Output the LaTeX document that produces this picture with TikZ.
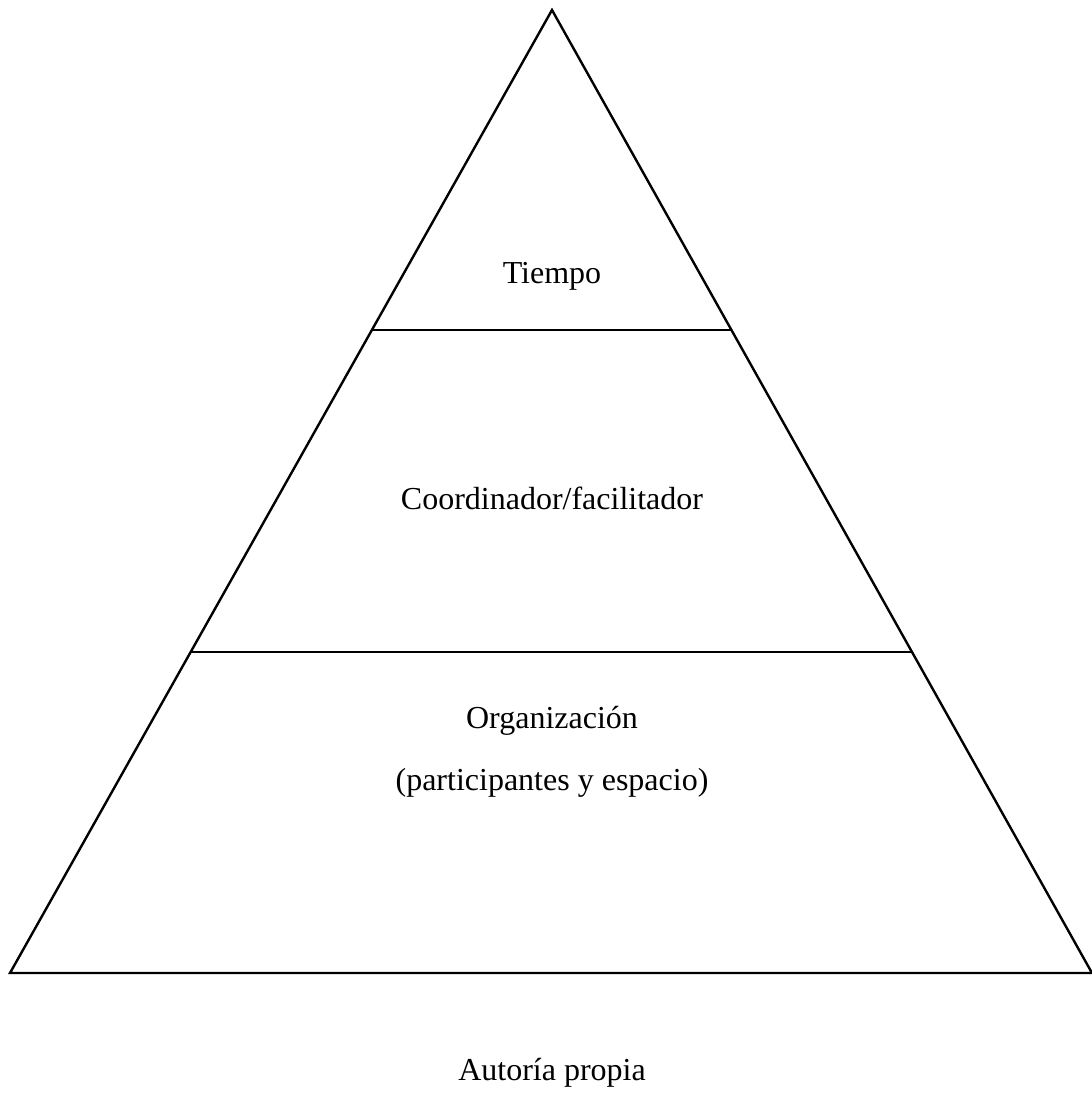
\documentclass[tikz,border=0pt]{standalone}
\usepackage{fontspec}
\setmainfont{Liberation Serif}
\begin{document}
\begin{tikzpicture}[x=0.375pt,y=-0.375pt,
  edge/.style={line width=0.9pt, line join=miter},
  lbl/.style={font=\fontsize{12}{14}\selectfont, inner sep=0pt, anchor=base}]
\useasboundingbox (0,0) rectangle (1092,1113);
\coordinate (apex) at (552,10);
\coordinate (bl) at (10,973);
\coordinate (br) at (1092,973);
\coordinate (l1) at (372,330);
\coordinate (r1) at (731,330);
\coordinate (l2) at (191,652);
\coordinate (r2) at (912,652);
\draw[edge] (apex) -- (bl) -- (br) -- cycle;
\draw[edge] (l1) -- (r1);
\draw[edge] (l2) -- (r2);
\node[lbl] (t1) at (552,283) {Tiempo};
\node[lbl] (t2) at (552,509) {Coordinador/facilitador};
\node[lbl] (t3) at (552,728) {Organización};
\node[lbl] (t4) at (552,790) {(participantes y espacio)};
\node[lbl] (t5) at (552,1080) {Autoría propia};
\end{tikzpicture}
\end{document}
